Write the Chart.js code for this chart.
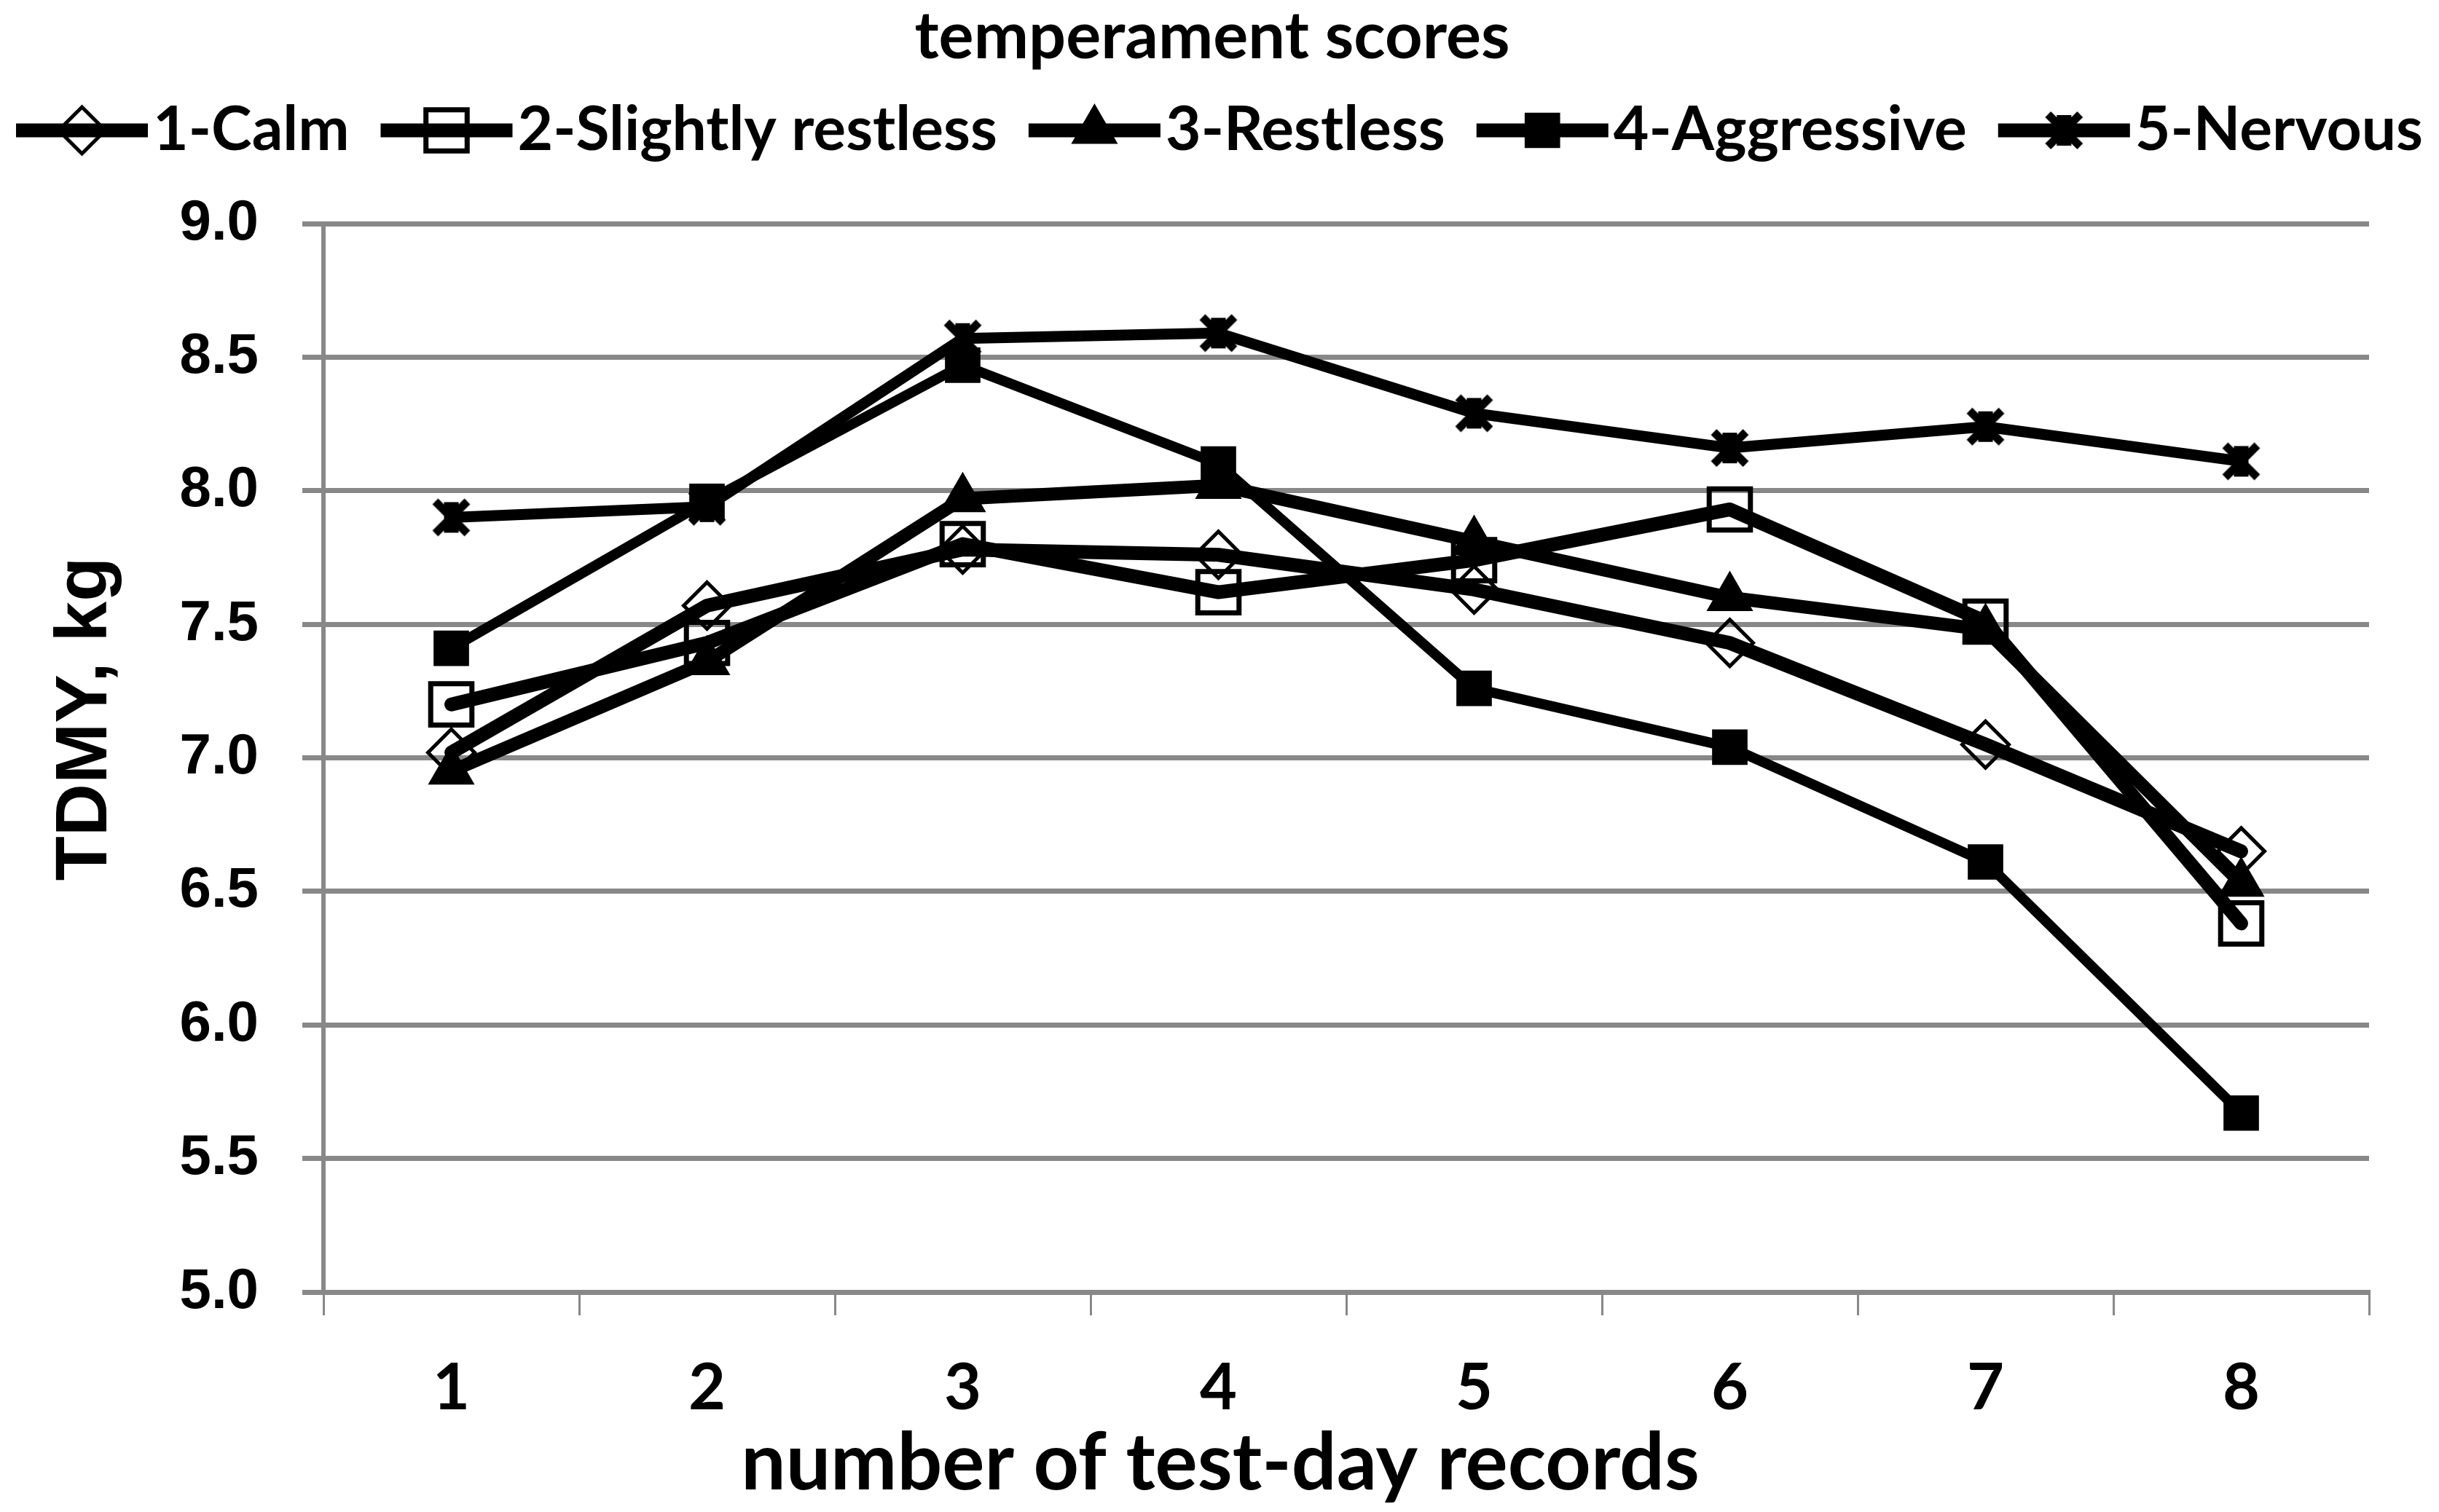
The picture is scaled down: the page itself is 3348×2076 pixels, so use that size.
<!DOCTYPE html>
<html>
<head>
<meta charset="utf-8">
<script src="https://cdn.jsdelivr.net/npm/chart.js@4.4.1/dist/chart.umd.min.js"></script>
<style>
  html, body { margin: 0; padding: 0; background: #fff; }
  #wrap { width: 3348px; height: 2076px; }
</style>
</head>
<body>
<div id="wrap"><canvas id="myChart" width="3348" height="2076"></canvas></div>
<script>
// data
const records = ['1', '2', '3', '4', '5', '6', '7', '8'];
const seriesNames = ['1-Calm', '2-Slightly restless', '3-Restless', '4-Aggressive', '5-Nervous'];
const calm = [7.02, 7.57, 7.78, 7.76, 7.63, 7.43, 7.05, 6.65];
const slightlyRestless = [7.20, 7.43, 7.80, 7.62, 7.74, 7.93, 7.51, 6.38];
const restless = [6.95, 7.36, 7.97, 8.02, 7.81, 7.60, 7.48, 6.53];
const aggressive = [7.41, 7.96, 8.47, 8.10, 7.26, 7.04, 6.61, 5.67];
const nervous = [7.90, 7.94, 8.57, 8.59, 8.29, 8.16, 8.24, 8.11];
const yTicks = [5.0, 5.5, 6.0, 6.5, 7.0, 7.5, 8.0, 8.5, 9.0];

const GRID = '#888888';

// asterisk-like marker used by Excel for the "Nervous" series
function starMarker() {
  const c = document.createElement('canvas');
  c.width = 60;
  c.height = 60;
  const g = c.getContext('2d');
  g.strokeStyle = '#000';
  g.fillStyle = '#000';
  g.lineWidth = 11;
  g.beginPath();
  g.moveTo(8, 8); g.lineTo(52, 52);
  g.moveTo(52, 8); g.lineTo(8, 52);
  g.stroke();
  g.fillRect(20, 9, 20, 42);
  return c;
}
const nervousMarker = starMarker();

function series(label, data, opts) {
  return Object.assign({
    label: label,
    data: data,
    borderColor: '#000',
    pointBorderColor: '#000',
    pointBackgroundColor: '#000',
    borderJoinStyle: 'round',
    borderCapStyle: 'round',
    tension: 0,
    fill: false,
  }, opts);
}

const datasets = [
  series(seriesNames[0], calm, { borderWidth: 19, pointStyle: 'rectRot', pointRadius: 32, pointBorderWidth: 5, pointBackgroundColor: 'rgba(0,0,0,0)' }),
  series(seriesNames[1], slightlyRestless, { borderWidth: 19, pointStyle: 'rect', pointRadius: 40, pointBorderWidth: 7, pointBackgroundColor: 'rgba(0,0,0,0)' }),
  series(seriesNames[2], restless, { borderWidth: 18, pointStyle: 'triangle', pointRadius: 35, pointBorderWidth: 2 }),
  series(seriesNames[3], aggressive, { borderWidth: 14, pointStyle: 'rect', pointRadius: 33, pointBorderWidth: 2 }),
  series(seriesNames[4], nervous, { borderWidth: 15, pointStyle: nervousMarker, pointRadius: 30, pointBorderWidth: 0 }),
];

// title, legend (line + marker) and axis titles drawn by hand
const decorations = {
  id: 'decorations',
  afterDraw(chart) {
    const ctx = chart.ctx;
    ctx.save();
    ctx.fillStyle = '#000';

    // chart title
    ctx.font = 'bold 90px Lato';
    ctx.textAlign = 'center';
    ctx.textBaseline = 'alphabetic';
    ctx.fillText('temperament scores', 1664, 80);

    // legend
    ctx.font = 'bold 84px Lato';
    ctx.textAlign = 'left';
    const sample = 181, gapIn = 7, gapOut = 43;
    const widths = chart.data.datasets.map((d) => ctx.measureText(d.label).width);
    let total = 0;
    widths.forEach((w, i) => { total += sample + gapIn + w + (i ? gapOut : 0); });
    let x = chart.width / 2 - total / 2;
    const ly = 179;
    chart.data.datasets.forEach((d, i) => {
      ctx.strokeStyle = '#000';
      ctx.lineWidth = 19;
      ctx.lineCap = 'butt';
      ctx.beginPath();
      ctx.moveTo(x, ly);
      ctx.lineTo(x + sample, ly);
      ctx.stroke();
      ctx.fillStyle = d.pointBackgroundColor;
      ctx.strokeStyle = '#000';
      ctx.lineWidth = d.pointBorderWidth;
      Chart.helpers.drawPoint(ctx, {
        pointStyle: d.pointStyle,
        radius: d.pointRadius,
        borderWidth: d.pointBorderWidth,
        rotation: 0,
      }, x + sample / 2, ly);
      ctx.fillStyle = '#000';
      ctx.fillText(d.label, x + sample + gapIn, 206);
      x += sample + gapIn + widths[i] + gapOut;
    });

    // x axis title
    ctx.font = 'bold 109px Lato';
    ctx.textAlign = 'center';
    ctx.fillText('number of test-day records', 1675, 2045);

    // y axis title
    ctx.translate(118, 987);
    ctx.rotate(-Math.PI / 2);
    ctx.font = 'bold 100px "Liberation Sans"';
    ctx.textBaseline = 'middle';
    ctx.fillText('TDMY, kg', 0, 0);
    ctx.restore();
  },
};

const canvas = document.getElementById('myChart');

const chart = new Chart(canvas, {
  type: 'line',
  data: {
    labels: records,
    datasets: datasets,
  },
  options: {
    responsive: false,
    animation: false,
    devicePixelRatio: 1,
    layout: {
      padding: { left: 0, right: 96, top: 307, bottom: 0 },
    },
    plugins: {
      legend: { display: false },
      title: { display: false },
      tooltip: { enabled: false },
    },
    scales: {
      x: {
        type: 'category',
        offset: true,
        grid: {
          offset: true,
          drawOnChartArea: false,
          drawTicks: true,
          tickLength: 32,
          color: GRID,
          lineWidth: 3,
        },
        border: { display: true, color: GRID, width: 6 },
        ticks: {
          color: '#000',
          padding: 48,
          font: { family: 'Lato', weight: 'bold', size: 88 },
        },
        afterFit(scale) { scale.height = 302; },
      },
      y: {
        min: yTicks[0],
        max: yTicks[yTicks.length - 1],
        afterBuildTicks(scale) { scale.ticks = yTicks.map((v) => ({ value: v })); },
        grid: {
          color: GRID,
          lineWidth: 7,
          tickLength: 29,
          drawTicks: true,
        },
        border: { display: true, color: GRID, width: 6 },
        ticks: {
          color: '#000',
          padding: 60,
          font: { family: 'Liberation Sans', weight: 'bold', size: 78 },
          callback: (v) => Number(v).toFixed(1),
        },
        afterFit(scale) { scale.width = 444; },
      },
    },
  },
  plugins: [decorations],
});
</script>
</body>
</html>
